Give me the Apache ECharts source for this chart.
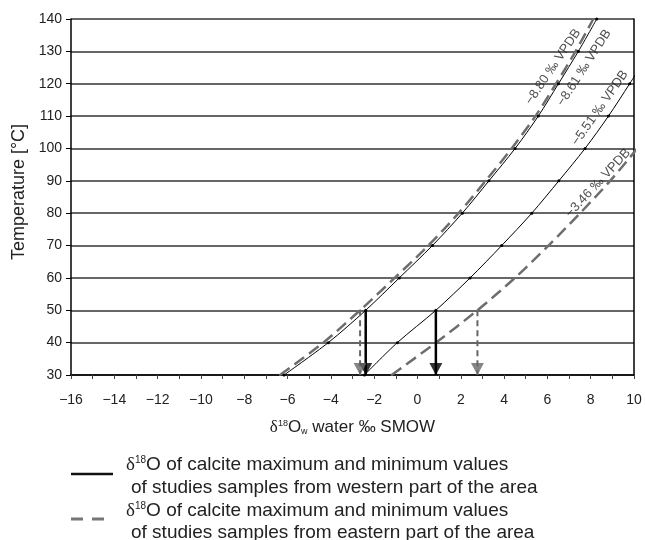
<!DOCTYPE html>
<html>
<head>
<meta charset="utf-8">
<script src="https://cdn.jsdelivr.net/npm/echarts@6/dist/echarts.min.js"></script>
<style>
  html, body { margin: 0; padding: 0; background: #fff; }
  #chart { width: 645px; height: 540px; }
</style>
</head>
<body>
<div id="chart"></div>
<script>
// temperature steps (°C) where the curves were read
var temps = [30, 40, 50, 60, 70, 80, 90, 100, 110, 120, 130, 140]
// δ18O water (‰ SMOW) for each calcite value
var westMax = [-6.16, -4.12, -2.39, -0.84, 0.69, 2.07, 3.30, 4.51, 5.58, 6.51, 7.43, 8.28]   // -8.61
var eastMax = [-6.35, -4.35, -2.65, -1.05, 0.50, 1.90, 3.15, 4.35, 5.45, 6.40, 7.30, 8.12]   // -8.80
var westMin = [-2.45, -0.93, 0.85, 2.43, 3.89, 5.28, 6.53, 7.74, 8.82, 9.80, 10.75]          // -5.51
var eastMin = [-1.19, 0.85, 2.77, 4.50, 6.05, 7.51, 8.90, 10.15, 11.30]                      // -3.46
// curve labels: text, anchor [x, T], angle
var curveLabels = [
  ['−8.80 ‰ VPDB', 6.26, 125.2, 56],
  ['−8.61 ‰ VPDB', 7.70, 124.9, 57],
  ['−5.51 ‰ VPDB', 8.43, 112.5, 55],
  ['−3.46 ‰ VPDB', 8.34, 89.3, 47]
]
var arrowFrom = 50, arrowTo = 30

function pairs(xs) {
  return xs.map(function (x, i) { return [x, temps[i]] })
}
function minus(v) {
  return v < 0 ? '−' + Math.abs(v) : '' + v
}

var idx50 = temps.indexOf(arrowFrom)
var blackArrowX = [westMax[idx50], westMin[idx50]]
var grayArrowX = [eastMax[idx50], eastMin[idx50]]

var font = 'Liberation Sans, Arial, sans-serif'

var series = []
function curve(name, xs, solid) {
  series.push({
    name: name,
    type: 'line',
    data: pairs(xs),
    smooth: 0.3,
    symbol: 'circle',
    symbolSize: solid ? 3 : 2,
    itemStyle: { color: solid ? '#000' : '#6e6e6e' },
    lineStyle: solid
      ? { color: '#000', width: 1 }
      : { color: '#6e6e6e', width: 2.5, type: [12, 6] },
    z: solid ? 4 : 3,
    clip: true,
  })
}
curve('-8.80', eastMax, false)
curve('-3.46', eastMin, false)
curve('-8.61', westMax, true)
curve('-5.51', westMin, true)

function arrow(x, solid) {
  var col = solid ? '#000' : '#666'
  series.push({
    type: 'line',
    data: [[x, arrowFrom], [x, arrowTo]],
    symbol: 'none',
    lineStyle: solid ? { color: col, width: 2.5 } : { color: col, width: 2, type: [6, 4] },
    z: 5,
  })
  series.push({
    type: 'scatter',
    data: [[x, arrowTo]],
    symbol: 'triangle',
    symbolRotate: 180,
    symbolSize: [13, 12],
    symbolOffset: [0, -6],
    itemStyle: { color: col },
    z: 6,
  })
}
blackArrowX.forEach(function (x) { arrow(x, true) })
grayArrowX.forEach(function (x) { arrow(x, false) })

series.push({
  type: 'scatter',
  symbol: 'circle',
  symbolSize: 1,
  itemStyle: { color: 'rgba(0,0,0,0)' },
  data: curveLabels.map(function (l) {
    return { name: l[0], value: [l[1], l[2]], label: { rotate: l[3] } }
  }),
  label: {
    show: true,
    position: 'inside',
    formatter: '{b}',
    fontFamily: font,
    fontSize: 13,
    color: '#222',
  },
  z: 7,
})

var option = {
  animation: false,
  textStyle: { fontFamily: font },
  grid: { left: 71, right: 11, top: 19, bottom: 165 },
  xAxis: {
    type: 'value',
    min: -16,
    max: 10,
    interval: 2,
    axisLine: { show: true, onZero: false, lineStyle: { color: '#000', width: 1.5 } },
    axisTick: { show: true, length: 4, lineStyle: { color: '#444' } },
    minorTick: { show: true, splitNumber: 2, length: 4, lineStyle: { color: '#444' } },
    splitLine: { show: false },
    axisLabel: { formatter: minus, fontSize: 14, color: '#222', margin: 18 },
    name: '{d|δ}{s|18}{n|O}{w|w}{n| water ‰ SMOW}',
    nameLocation: 'middle',
    nameGap: 44,
    nameTextStyle: {
      rich: {
        d: { fontSize: 17, color: '#222', fontFamily: 'Liberation Serif, serif' },
        s: { fontSize: 9, color: '#222', verticalAlign: 'top' },
        n: { fontSize: 17, color: '#222' },
        w: { fontSize: 9, color: '#222', verticalAlign: 'bottom' },
      },
    },
  },
  yAxis: [
    {
      type: 'value',
      min: 30,
      max: 140,
      interval: 10,
      axisLine: { show: true, onZero: false, lineStyle: { color: '#000', width: 1.5 } },
      axisTick: { show: true, length: 5, lineStyle: { color: '#000' } },
      splitLine: { show: true, lineStyle: { color: '#333', width: 1.5 } },
      axisLabel: { fontSize: 14, color: '#222', margin: 9 },
      name: 'Temperature [°C]',
      nameLocation: 'middle',
      nameGap: 36,
      nameTextStyle: { fontSize: 18, color: '#222', padding: [0, 0, 0, 10] },
    },
    {
      type: 'value',
      position: 'right',
      min: 30,
      max: 140,
      interval: 10,
      axisLine: { show: true, onZero: false, lineStyle: { color: '#000', width: 1.5 } },
      axisTick: { show: false },
      axisLabel: { show: false },
      splitLine: { show: false },
    },
  ],
  graphic: [
    { type: 'line', shape: { x1: 71, y1: 474, x2: 113, y2: 474 }, style: { stroke: '#111', lineWidth: 2.5 } },
    { type: 'line', shape: { x1: 71, y1: 519, x2: 106, y2: 519 }, style: { stroke: '#777', lineWidth: 3, lineDash: [12, 9] } },
    legendText(126, 465, true, 'O of calcite maximum and minimum values'),
    legendText(131, 488, false, 'of studies samples from western part of the area'),
    legendText(126, 511, true, 'O of calcite maximum and minimum values'),
    legendText(131, 533, false, 'of studies samples from eastern part of the area'),
  ],
  series: series,
}

function legendText(x, y, delta, txt) {
  return {
    type: 'text',
    x: x,
    y: y,
    style: {
      text: delta ? '{d|δ}{s|18}{n|' + txt + '}' : '{n|' + txt + '}',
      verticalAlign: 'middle',
      rich: {
        d: { fontSize: 19, fill: '#222', fontFamily: 'Liberation Serif, serif' },
        s: { fontSize: 10, fill: '#222', verticalAlign: 'top', fontFamily: font },
        n: { fontSize: 19, fill: '#222', fontFamily: font },
      },
    },
  }
}

var myChart = echarts.init(document.getElementById('chart'))
option && myChart.setOption(option)
</script>
</body>
</html>
